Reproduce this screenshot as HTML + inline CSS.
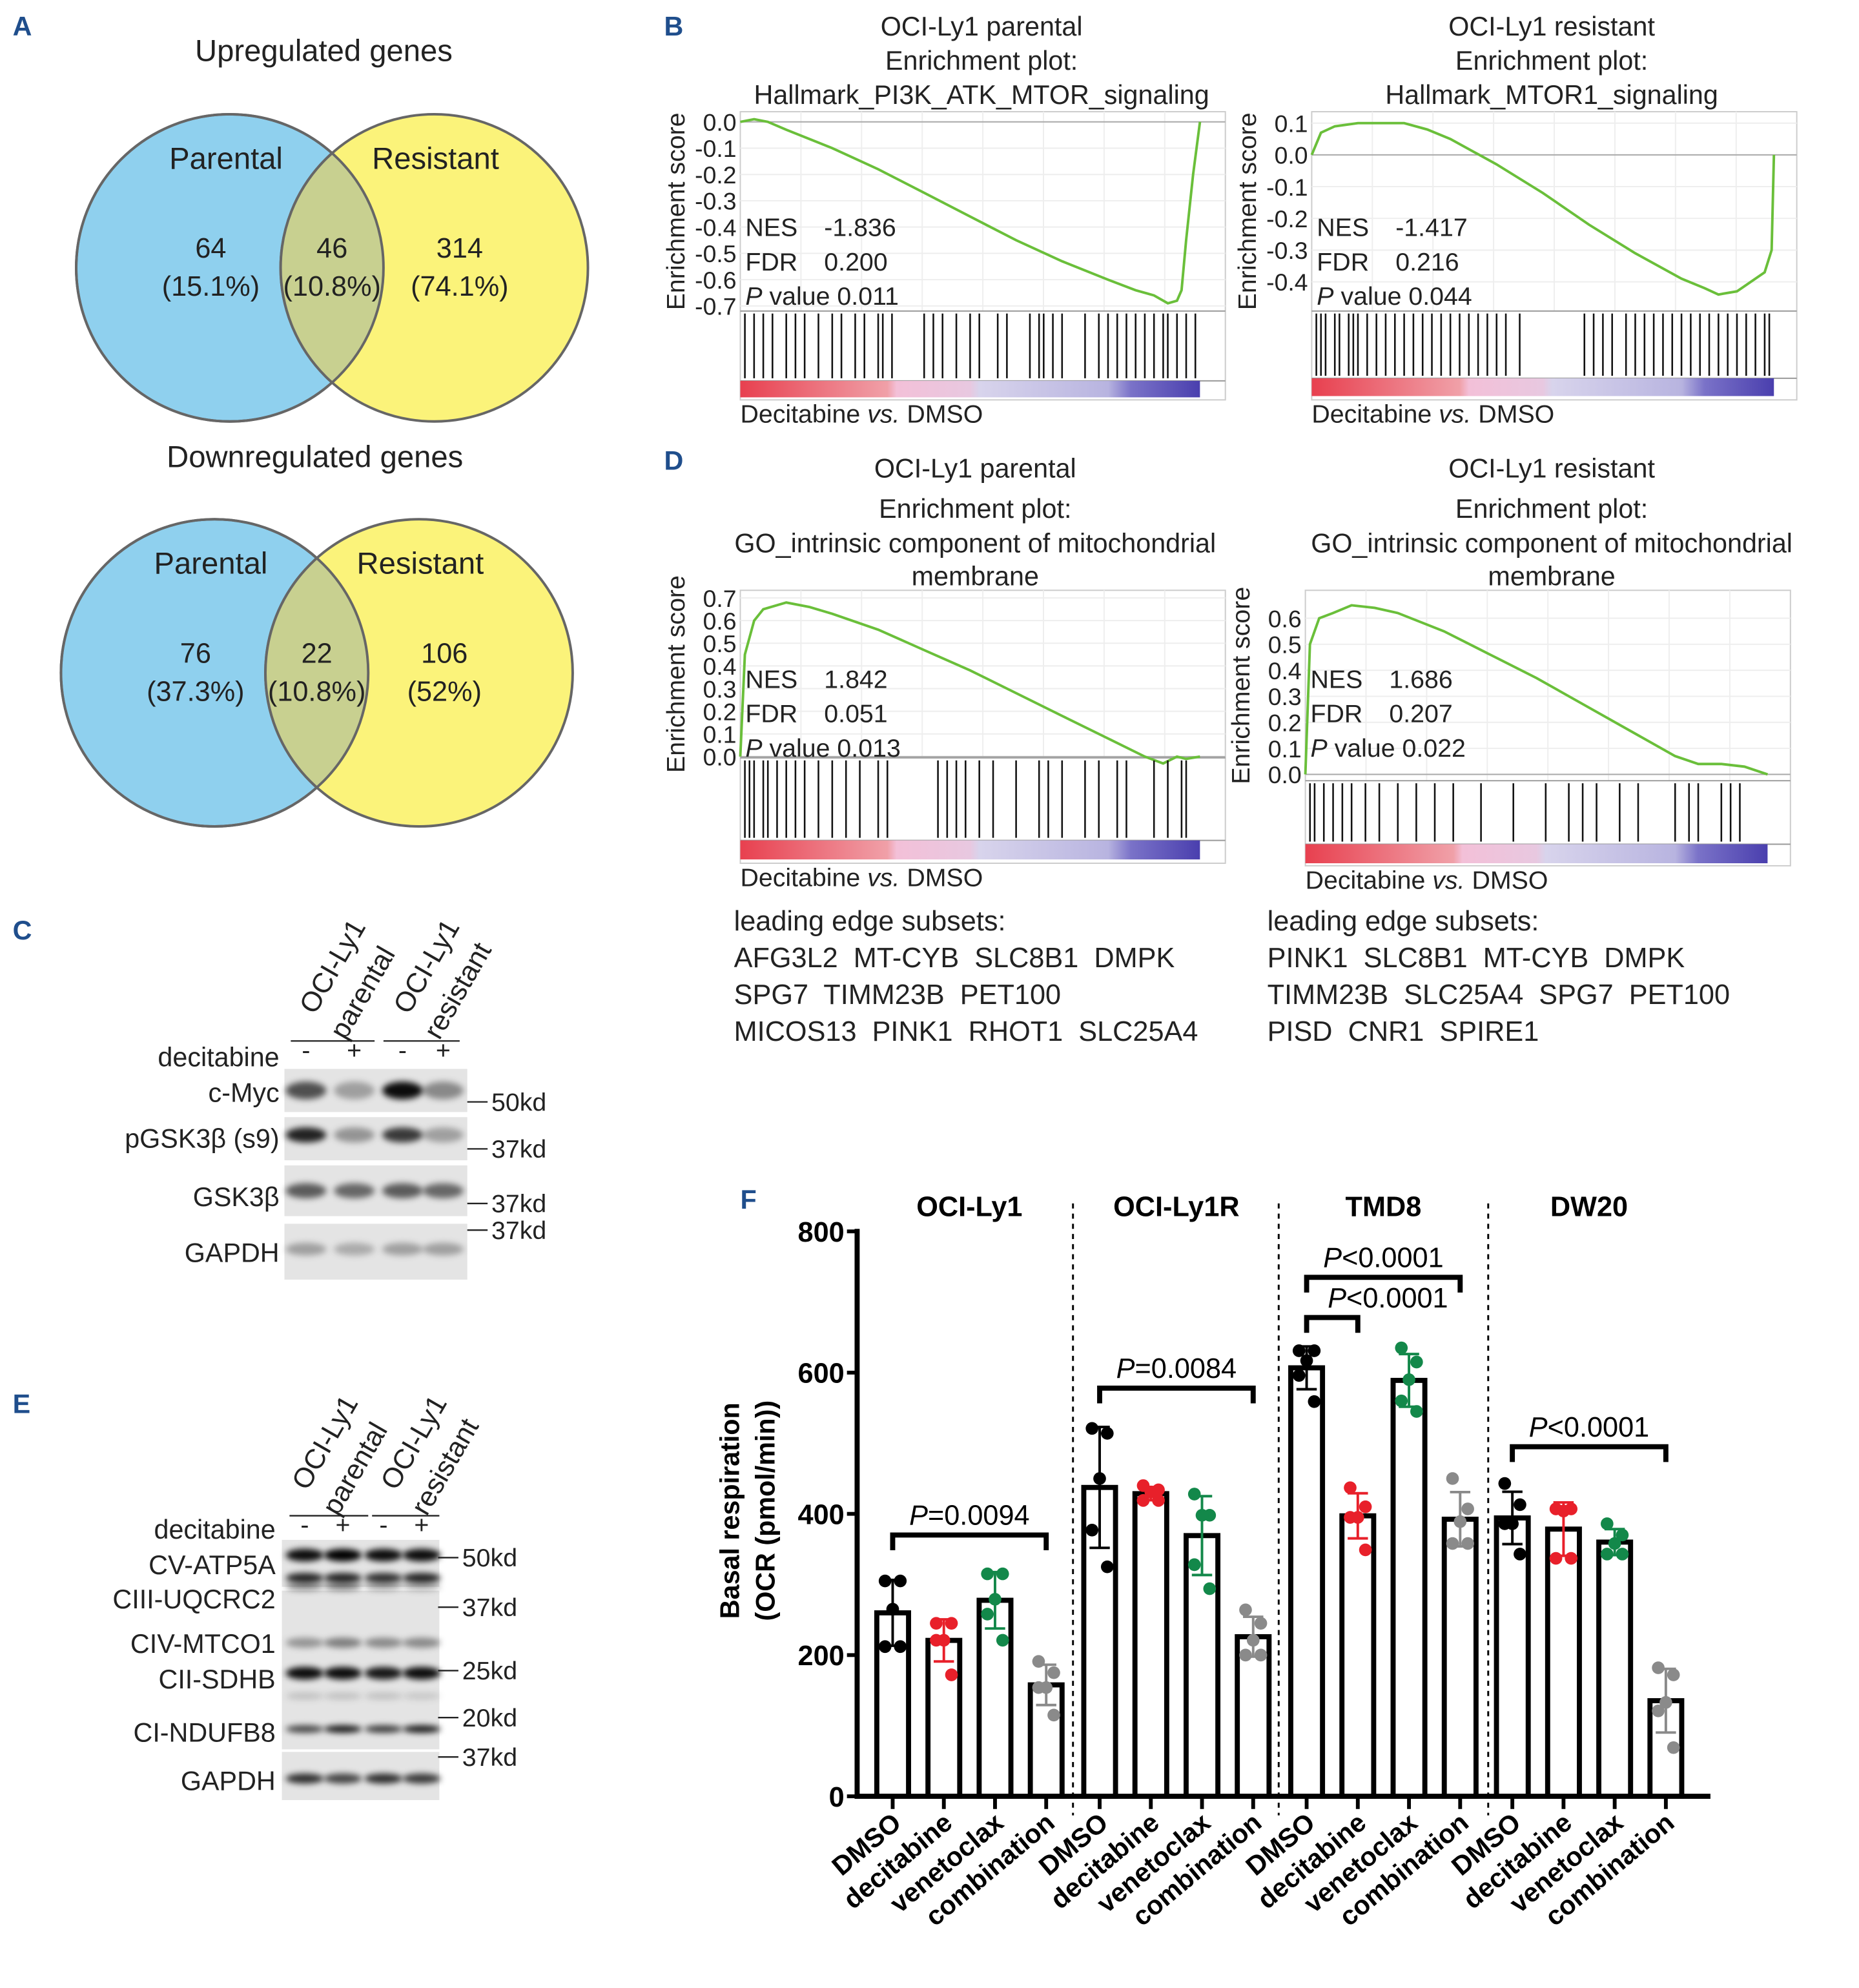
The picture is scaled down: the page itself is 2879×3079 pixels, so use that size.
<!DOCTYPE html>
<html><head><meta charset="utf-8"><style>
html,body{margin:0;padding:0;background:#fff}
svg{display:block}
text{font-family:"Liberation Sans",Arial,sans-serif;fill:#222;white-space:pre}
</style></head><body>
<svg id="fig" width="2879" height="3079" viewBox="0 0 1464 1566" preserveAspectRatio="none" xmlns="http://www.w3.org/2000/svg">
<defs>
<linearGradient id="rb" x1="0" x2="1" y1="0" y2="0">
<stop offset="0" stop-color="#e8404f"/><stop offset="0.32" stop-color="#f0a0a8"/><stop offset="0.34" stop-color="#f3c0d8"/><stop offset="0.5" stop-color="#e8c8e0"/><stop offset="0.52" stop-color="#d8d4ec"/><stop offset="0.8" stop-color="#b8b4e0"/><stop offset="0.85" stop-color="#7a72c8"/><stop offset="1" stop-color="#4a3fae"/>
</linearGradient>
<filter id="blur" x="-20%" y="-100%" width="140%" height="300%"><feGaussianBlur stdDeviation="2.5"/></filter>
</defs>
<g id="root"></g>
</svg>
<script>
// ---- Panel F data ----
const groups = ["OCI-Ly1","OCI-Ly1R","TMD8","DW20"];
const treatments = ["DMSO","decitabine","venetoclax","combination"];
const pts_OCILy1 = [[305,305,265,212,212],[245,245,221,221,172],[315,315,279,258,221],[191,175,154,154,115]];
const pts_OCILy1R = [[521,514,450,377,325],[440,434,431,419,419],[428,398,398,328,294],[264,245,221,200,200]];
const pts_TMD8 = [[631,631,617,596,559],[437,410,395,395,349],[635,615,590,560,545],[450,407,389,358,358]];
const pts_DW20 = [[443,413,386,386,343],[407,407,404,337,337],[386,370,358,343,343],[182,172,133,121,69]];
const yTicks = [0,200,400,600,800];
const pLabels = ["=0.0094","=0.0084","<0.0001","<0.0001","<0.0001"];
const brGroup = [0,1,2,2,3];
const brFrom = [0,0,0,0,0];
const brTo = [3,3,3,1,3];
const brLevel = [370,578,735,678,495];
// ---- GSEA curve data (fraction of rank, ES) ----
const esB1x=[0,0.03,0.06,0.1,0.2,0.3,0.4,0.5,0.6,0.7,0.8,0.86,0.9,0.93,0.95,0.96,0.97,0.985,1];
const esB1y=[0,0.01,0.0,-0.03,-0.1,-0.18,-0.27,-0.36,-0.45,-0.53,-0.6,-0.64,-0.66,-0.69,-0.68,-0.64,-0.45,-0.2,0];
const esB2x=[0,0.02,0.05,0.1,0.15,0.2,0.25,0.3,0.4,0.5,0.6,0.7,0.8,0.85,0.88,0.92,0.95,0.98,0.995,1];
const esB2y=[0,0.07,0.09,0.1,0.1,0.1,0.08,0.05,-0.03,-0.12,-0.22,-0.31,-0.39,-0.42,-0.44,-0.43,-0.4,-0.37,-0.3,0];
const esD1x=[0,0.01,0.03,0.05,0.1,0.15,0.2,0.3,0.4,0.5,0.6,0.7,0.8,0.88,0.92,0.95,0.97,1];
const esD1y=[0,0.45,0.6,0.65,0.68,0.66,0.63,0.56,0.47,0.38,0.28,0.18,0.08,0.0,-0.03,0.0,-0.01,0.0];
const esD2x=[0,0.01,0.03,0.06,0.1,0.15,0.2,0.3,0.4,0.5,0.6,0.7,0.8,0.85,0.9,0.95,1];
const esD2y=[0,0.5,0.6,0.62,0.65,0.64,0.62,0.55,0.46,0.37,0.27,0.17,0.07,0.04,0.04,0.03,0.0];
const hitsB1=[0.01,0.03,0.05,0.07,0.1,0.12,0.14,0.17,0.2,0.22,0.25,0.27,0.3,0.31,0.33,0.4,0.42,0.44,0.47,0.5,0.52,0.56,0.58,0.63,0.65,0.66,0.68,0.7,0.75,0.78,0.8,0.82,0.84,0.86,0.88,0.9,0.92,0.93,0.95,0.97,0.99];
const hitsB2=[0.01,0.02,0.03,0.05,0.06,0.08,0.09,0.1,0.12,0.14,0.16,0.18,0.2,0.22,0.24,0.26,0.28,0.3,0.32,0.34,0.36,0.38,0.4,0.42,0.45,0.59,0.61,0.63,0.65,0.68,0.7,0.72,0.74,0.76,0.78,0.8,0.82,0.84,0.86,0.88,0.9,0.92,0.94,0.96,0.98,0.99];
const hitsD1=[0.01,0.02,0.03,0.05,0.06,0.08,0.1,0.12,0.14,0.17,0.2,0.23,0.26,0.3,0.32,0.43,0.45,0.47,0.49,0.52,0.55,0.6,0.65,0.67,0.7,0.75,0.78,0.82,0.84,0.9,0.93,0.96,0.97];
const hitsD2=[0.01,0.02,0.04,0.06,0.08,0.1,0.13,0.16,0.2,0.24,0.28,0.32,0.38,0.45,0.52,0.57,0.6,0.63,0.68,0.72,0.8,0.83,0.85,0.9,0.92,0.94];
const ticksB1=[0.0,-0.1,-0.2,-0.3,-0.4,-0.5,-0.6,-0.7];
const ticksB2=[0.1,0.0,-0.1,-0.2,-0.3,-0.4];
const ticksD1=[0.7,0.6,0.5,0.4,0.3,0.2,0.1,0.0];
const ticksD2=[0.6,0.5,0.4,0.3,0.2,0.1,0.0];

const NS="http://www.w3.org/2000/svg";
const root=document.getElementById('root');
function mk(tag,attrs,parent){const e=document.createElementNS(NS,tag);for(const k in attrs)e.setAttribute(k,attrs[k]);(parent||root).appendChild(e);return e;}
function txt(x,y,s,size,opts,parent){opts=opts||{};const e=mk('text',{x:x,y:y,'font-size':size,'text-anchor':opts.anchor||'start','font-weight':opts.bold?'bold':'normal'},parent);if(opts.fill)e.style.fill=opts.fill;if(opts.rot!==undefined)e.setAttribute('transform','rotate('+opts.rot+' '+x+' '+y+')');if(opts.italic)e.setAttribute('font-style','italic');e.textContent=s;return e;}

[["A",10,28],["B",523,28],["D",523,370],["C",10,740],["E",10,1113],["F",583,952]].forEach(l=>{
 const t=txt(l[1],l[2],l[0],21,{bold:true,fill:'#1f4e8c'});
 
 
});

function venn(cy,bx,yx,title,ty,tx,nums){
 const g=mk('g',{});
 
 
 txt(tx,ty,title,24,{anchor:'middle'},g);
 mk('circle',{cx:bx,cy:cy,r:121,fill:'#8fd0ee',stroke:'#666','stroke-width':2},g);
 mk('circle',{cx:yx,cy:cy,r:121,fill:'#fbf37a',stroke:'#666','stroke-width':2},g);
 const cp='cp'+cy;
 const c=mk('clipPath',{id:cp},g);mk('circle',{cx:bx,cy:cy,r:121},c);
 mk('circle',{cx:yx,cy:cy,r:121,fill:'#c8d090','clip-path':'url(#'+cp+')',stroke:'#666','stroke-width':2},g);
 mk('circle',{cx:bx,cy:cy,r:121,fill:'none',stroke:'#666','stroke-width':2},g);
 txt(bx-3,cy-78,'Parental',24,{anchor:'middle'},g);
 txt(yx+1,cy-78,'Resistant',24,{anchor:'middle'},g);
 const xs=[bx-15,(bx+yx)/2,yx+20];
 nums.forEach((n,i)=>{txt(xs[i],cy-8,n[0],22,{anchor:'middle'},g);txt(xs[i],cy+22,n[1],22,{anchor:'middle'},g);});
}
venn(211,181,342,'Upregulated genes',48,255,[["64","(15.1%)"],["46","(10.8%)"],["314","(74.1%)"]]);
venn(530,169,330,'Downregulated genes',368,248,[["76","(37.3%)"],["22","(10.8%)"],["106","(52%)"]]);

function gsea(o){
 const g=mk('g',{});
 
 
 o.titles.forEach((t,i)=>txt(o.cx,o.ty[i],t,21,{anchor:'middle'},g));
 const L=o.x0,R=o.x1;
 mk('rect',{x:L,y:o.top,width:R-L,height:o.bot-o.top,fill:'none',stroke:'#ccc','stroke-width':1},g);
 for(let i=1;i<8;i++){mk('line',{x1:L+(R-L)*i/8,x2:L+(R-L)*i/8,y1:o.top,y2:o.esBot,stroke:'#eee','stroke-width':1},g);}
 const yv=v=>o.yA+(v-o.vA)*(o.yB-o.yA)/(o.vB-o.vA);
 o.ticks.forEach(t=>{const y=yv(t);mk('line',{x1:L,x2:R,y1:y,y2:y,stroke:'#eee'},g);txt(L-3,y+7,t.toFixed(1),19,{anchor:'end'},g);});
 mk('line',{x1:L,x2:R,y1:yv(0),y2:yv(0),stroke:'#aaa','stroke-width':1},g);
 mk('line',{x1:L,x2:R,y1:o.esBot,y2:o.esBot,stroke:'#999'},g);
 mk('line',{x1:L,x2:R,y1:o.barTop,y2:o.barTop,stroke:'#999'},g);
 const W=o.dataR-L;
 let d='';o.ex.forEach((x,i)=>{d+=(i?'L':'M')+(L+x*W).toFixed(1)+' '+yv(o.ey[i]).toFixed(1);});
 const p=mk('path',{d:d,fill:'none',stroke:'#6abf3a','stroke-width':2},g);
 
 
 o.hits.forEach(h=>{mk('line',{x1:L+h*W,x2:L+h*W,y1:o.esBot+2,y2:o.barTop-2,stroke:'#111','stroke-width':1.3},g);});
 mk('rect',{x:L,y:o.barTop,width:W,height:o.barH,fill:'url(#rb)'},g);
 txt(L-44,(o.top+o.esBot)/2,'Enrichment score',20,{anchor:'middle',rot:-90},g);
 const sx=L+4;
 txt(sx,o.st,'NES',20,{},g);txt(sx+62,o.st,o.nes,20,{},g);
 txt(sx,o.st+27,'FDR',20,{},g);txt(sx+62,o.st+27,o.fdr,20,{},g);
 const pt=txt(sx,o.st+54,'',20,{},g);pt.innerHTML='<tspan font-style="italic">P</tspan> value '+o.p;
 const dv=txt(L,o.bot+18,'',20,{},g);dv.innerHTML='Decitabine <tspan font-style="italic">vs.</tspan> DMSO';
}
gsea({name:'gsea-b-parental',cx:773,ty:[28,55,82],titles:['OCI-Ly1 parental','Enrichment plot:','Hallmark_PI3K_ATK_MTOR_signaling'],x0:583,x1:965,dataR:945,top:88,esBot:245,barTop:300,barH:13,bot:315,ticks:ticksB1,vA:0,yA:96,vB:-0.7,yB:241,ex:esB1x,ey:esB1y,hits:hitsB1,st:186,nes:'-1.836',fdr:'0.200',p:'0.011'});
gsea({name:'gsea-b-resistant',cx:1222,ty:[28,55,82],titles:['OCI-Ly1 resistant','Enrichment plot:','Hallmark_MTOR1_signaling'],x0:1033,x1:1415,dataR:1397,top:88,esBot:245,barTop:298,barH:14,bot:315,ticks:ticksB2,vA:0.1,yA:97,vB:-0.4,yB:222,ex:esB2x,ey:esB2y,hits:hitsB2,st:186,nes:'-1.417',fdr:'0.216',p:'0.044'});
gsea({name:'gsea-d-parental',cx:768,ty:[376,408,435,461],titles:['OCI-Ly1 parental','Enrichment plot:','GO_intrinsic component of mitochondrial','membrane'],x0:583,x1:965,dataR:945,top:465,esBot:597,barTop:662,barH:15,bot:680,ticks:ticksD1,vA:0.7,yA:471,vB:0,yB:596,ex:esD1x,ey:esD1y,hits:hitsD1,st:542,nes:'1.842',fdr:'0.051',p:'0.013'});
gsea({name:'gsea-d-resistant',cx:1222,ty:[376,408,435,461],titles:['OCI-Ly1 resistant','Enrichment plot:','GO_intrinsic component of mitochondrial','membrane'],x0:1028,x1:1410,dataR:1392,top:465,esBot:615,barTop:665,barH:15,bot:682,ticks:ticksD2,vA:0.6,yA:487,vB:0,yB:610,ex:esD2x,ey:esD2y,hits:hitsD2,st:542,nes:'1.686',fdr:'0.207',p:'0.022'});

[[578,['leading edge subsets:','AFG3L2  MT-CYB  SLC8B1  DMPK','SPG7  TIMM23B  PET100','MICOS13  PINK1  RHOT1  SLC25A4']],[998,['leading edge subsets:','PINK1  SLC8B1  MT-CYB  DMPK','TIMM23B  SLC25A4  SPG7  PET100','PISD  CNR1  SPIRE1']]].forEach((b,k)=>{
 const g=mk('g',{});
 b[1].forEach((s,i)=>{txt(b[0],733+i*29,s,22,{},g);});
});

function blot(o){
 const g=mk('g',{});
 o.heads.forEach(h=>{txt(h[0],h[1],h[2],22,{rot:-60},g);});
 o.ulines.forEach(u=>mk('line',{x1:u[0],x2:u[1],y1:o.uy,y2:o.uy,stroke:'#222','stroke-width':1.2},g));
 o.lanes.forEach((x,i)=>txt(x,o.uy+14,i%2?'+':'-',20,{anchor:'middle'},g));
 txt(o.labX,o.decY,'decitabine',21,{anchor:'end'},g);
 o.panels.forEach(p=>{mk('rect',{x:o.bx0,y:p[0],width:o.bx1-o.bx0,height:p[1]-p[0],fill:'#e4e4e4'},g);});
 o.bands.forEach(b=>{b[2].forEach((a,i)=>{mk('ellipse',{cx:o.lanes[i],cy:b[0],rx:o.bw,ry:b[1],fill:'#000','fill-opacity':a,filter:'url(#blur)'},g);});});
 o.labels.forEach(l=>txt(o.labX,l[1],l[0],21,{anchor:'end'},g));
 o.kd.forEach(k=>{mk('line',{x1:k[1],x2:k[1]+o.kdLen,y1:k[2],y2:k[2],stroke:'#222','stroke-width':1.2},g);txt(k[1]+o.kdLen+3,k[2]+7,k[0],20,{},g);});
}
blot({name:'western-blot-c',heads:[[248,800,'OCI-Ly1'],[272,820,'parental'],[322,800,'OCI-Ly1'],[346,820,'resistant']],
 ulines:[[229,295],[302,362]],uy:820,lanes:[241,279,317,349],bw:16,labX:220,decY:840,bx0:224,bx1:368,
 panels:[[842,876],[880,914],[918,958],[964,1008]],
 bands:[[859,7,[0.65,0.3,0.95,0.4]],[894,6,[0.85,0.35,0.75,0.3]],[938,6,[0.6,0.55,0.6,0.55]],[984,5,[0.3,0.25,0.3,0.3]]],
 labels:[['c-Myc',868],['pGSK3β (s9)',904],['GSK3β',950],['GAPDH',994]],
 kd:[['50kd',368,868],['37kd',368,905],['37kd',368,948],['37kd',368,969]],kdLen:16});
blot({name:'western-blot-e',heads:[[242,1175,'OCI-Ly1'],[266,1195,'parental'],[312,1175,'OCI-Ly1'],[336,1195,'resistant']],
 ulines:[[228,290],[293,346]],uy:1194,lanes:[240,270,302,332],bw:15,labX:217,decY:1212,bx0:222,bx1:346,
 panels:[[1213,1250],[1253,1322],[1322,1378],[1380,1418]],
 bands:[[1225,5,[0.95,1,0.95,0.95]],[1243,4,[0.85,0.85,0.8,0.85]],[1250,3,[0.45,0.5,0.35,0.3]],[1294,4,[0.35,0.45,0.4,0.4]],[1318,5,[0.95,0.95,0.9,0.95]],[1336,3,[0.15,0.15,0.15,0.12]],[1362,3,[0.7,0.9,0.75,0.9]],[1401,4,[0.8,0.7,0.8,0.75]]],
 labels:[['CV-ATP5A',1240],['CIII-UQCRC2',1267],['CIV-MTCO1',1302],['CII-SDHB',1330],['CI-NDUFB8',1372],['GAPDH',1410]],
 kd:[['50kd',345,1227],['37kd',345,1266],['25kd',345,1316],['20kd',345,1353],['37kd',345,1384]],kdLen:16});

const allPts=[pts_OCILy1,pts_OCILy1R,pts_TMD8,pts_DW20];
const colors=['#000','#e8202a','#13884a','#8a8a8a'];
const fx0=675,fx1=1347,fy0=1415,fy800=970;
const yS=v=>fy0-(v/800)*(fy0-fy800);
const groupStart=[703,866,1029,1191];
const barStep=40.3;
const xS=(gi,ti)=>groupStart[gi]+ti*barStep;
const fg=mk('g',{});
mk('line',{x1:fx0,x2:fx0,y1:fy800-2,y2:fy0+2,stroke:'#000','stroke-width':4},fg);
yTicks.forEach(t=>{const y=yS(t);mk('line',{x1:fx0-8,x2:fx0,y1:y,y2:y,stroke:'#000','stroke-width':3},fg);const l=txt(fx0-10,y+8,String(t),22,{anchor:'end',bold:true,fill:'#000'},fg);});
const yt=txt(582,1190,'Basal respiration',21,{anchor:'middle',bold:true,rot:-90,fill:'#000'},fg);
txt(610,1190,'(OCR (pmol/min))',21,{anchor:'middle',bold:true,rot:-90,fill:'#000'},fg);
[845,1007,1172].forEach(x=>mk('line',{x1:x,x2:x,y1:948,y2:1430,stroke:'#000','stroke-width':1.5,'stroke-dasharray':'4,4'},fg));
groups.forEach((gname,gi)=>{
 const gt=txt(xS(gi,1.5),958,gname,22,{anchor:'middle',bold:true,fill:'#000'},fg);
 
 treatments.forEach((tn,ti)=>{
  const pts=allPts[gi][ti];const x=xS(gi,ti);
  const mean=pts.reduce((a,b)=>a+b,0)/pts.length;
  const sd=Math.sqrt(pts.reduce((a,b)=>a+(b-mean)*(b-mean),0)/(pts.length-1));
  const bar=mk('rect',{x:x-12.5,y:yS(mean),width:25,height:fy0-yS(mean),fill:'#fff',stroke:'#000','stroke-width':4},fg);
  
  
  const c=colors[ti];
  mk('line',{x1:x,x2:x,y1:yS(mean+sd),y2:yS(mean-sd),stroke:c,'stroke-width':2},fg);
  [mean+sd,mean-sd].forEach(v=>mk('line',{x1:x-8,x2:x+8,y1:yS(v),y2:yS(v),stroke:c,'stroke-width':2},fg));
  pts.forEach((v,k)=>{const off=[-6,6,0,-6,6][k];const dot=mk('circle',{cx:x+off,cy:yS(v),r:5,fill:c},fg);});
  mk('line',{x1:x,x2:x,y1:fy0,y2:fy0+10,stroke:'#000','stroke-width':3},fg);
  const xl=txt(x+8,1438,tn,21,{anchor:'end',bold:true,rot:-40,fill:'#000'},fg);
  
 });
});
mk('line',{x1:fx0,x2:fx1,y1:fy0,y2:fy0,stroke:'#000','stroke-width':4},fg);
brGroup.forEach((gi,i)=>{
 const xa=xS(gi,brFrom[i]),xb=xS(gi,brTo[i]),y=yS(brLevel[i]);
 const b=mk('path',{d:'M'+xa+' '+(y+12)+'V'+y+'H'+xb+'V'+(y+12),fill:'none',stroke:'#000','stroke-width':4},fg);
 
 const lt=txt(i==3?xa+64:(xa+xb)/2,y-8,'',22,{anchor:'middle',fill:'#000'},fg);
 lt.innerHTML='<tspan font-style="italic">P</tspan>'+pLabels[i];
 
});
</script>
</body></html>
